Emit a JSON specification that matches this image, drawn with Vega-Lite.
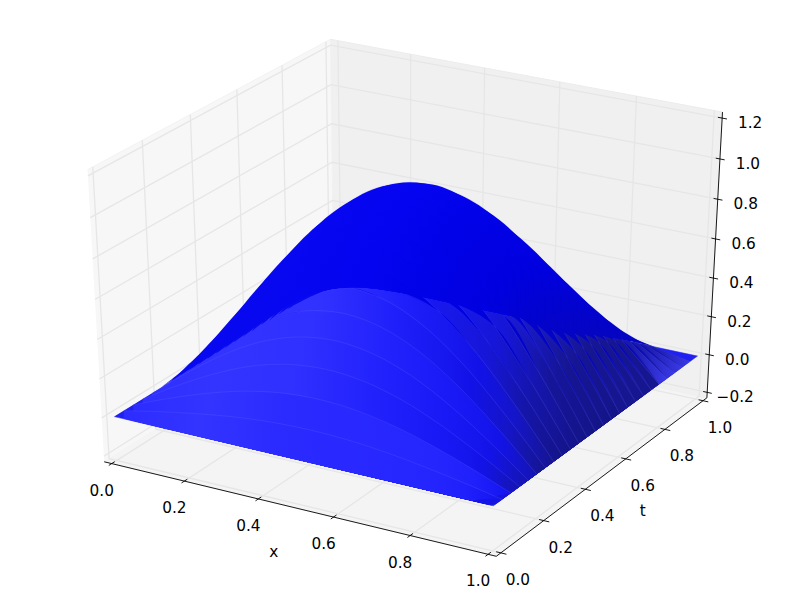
{"$schema":"https://vega.github.io/schema/vega-lite/v6.json","width":800,"height":593,"padding":0,"autosize":{"type":"fit","contains":"padding"},"background":"white","config":{"view":{"stroke":null}},
"data":{"values":[
{"c":"p1","i":1,"x":-0.0208,"t":-0.0208,"u":-0.2292},{"c":"p1","i":1,"x":-0.0208,"t":1.0208,"u":-0.2292},{"c":"p1","i":1,"x":-0.0208,"t":1.0208,"u":1.2292},{"c":"p1","i":1,"x":-0.0208,"t":-0.0208,"u":1.2292},
{"c":"p2","i":2,"x":-0.0208,"t":1.0208,"u":-0.2292},{"c":"p2","i":2,"x":1.0208,"t":1.0208,"u":-0.2292},{"c":"p2","i":2,"x":1.0208,"t":1.0208,"u":1.2292},{"c":"p2","i":2,"x":-0.0208,"t":1.0208,"u":1.2292},
{"c":"p3","i":3,"x":-0.0208,"t":-0.0208,"u":-0.2292},{"c":"p3","i":3,"x":1.0208,"t":-0.0208,"u":-0.2292},{"c":"p3","i":3,"x":1.0208,"t":1.0208,"u":-0.2292},{"c":"p3","i":3,"x":-0.0208,"t":1.0208,"u":-0.2292},
{"c":"f","i":4,"x":0,"t":0,"u":0},{"c":"f","i":4,"x":1,"t":0,"u":0},{"c":"f","i":4,"x":1,"t":1,"u":0},{"c":"f","i":4,"x":0,"t":1,"u":0},
{"c":"g","i":10,"x":0,"t":-0.0208,"u":-0.2292},{"c":"g","i":10,"x":0,"t":1.0208,"u":-0.2292},{"c":"g","i":10,"x":0,"t":1.0208,"u":1.2292},
{"c":"g","i":11,"x":0.2,"t":-0.0208,"u":-0.2292},{"c":"g","i":11,"x":0.2,"t":1.0208,"u":-0.2292},{"c":"g","i":11,"x":0.2,"t":1.0208,"u":1.2292},
{"c":"g","i":12,"x":0.4,"t":-0.0208,"u":-0.2292},{"c":"g","i":12,"x":0.4,"t":1.0208,"u":-0.2292},{"c":"g","i":12,"x":0.4,"t":1.0208,"u":1.2292},
{"c":"g","i":13,"x":0.6,"t":-0.0208,"u":-0.2292},{"c":"g","i":13,"x":0.6,"t":1.0208,"u":-0.2292},{"c":"g","i":13,"x":0.6,"t":1.0208,"u":1.2292},
{"c":"g","i":14,"x":0.8,"t":-0.0208,"u":-0.2292},{"c":"g","i":14,"x":0.8,"t":1.0208,"u":-0.2292},{"c":"g","i":14,"x":0.8,"t":1.0208,"u":1.2292},
{"c":"g","i":15,"x":1,"t":-0.0208,"u":-0.2292},{"c":"g","i":15,"x":1,"t":1.0208,"u":-0.2292},{"c":"g","i":15,"x":1,"t":1.0208,"u":1.2292},
{"c":"g","i":20,"x":1.0208,"t":0,"u":-0.2292},{"c":"g","i":20,"x":-0.0208,"t":0,"u":-0.2292},{"c":"g","i":20,"x":-0.0208,"t":0,"u":1.2292},
{"c":"g","i":21,"x":1.0208,"t":0.2,"u":-0.2292},{"c":"g","i":21,"x":-0.0208,"t":0.2,"u":-0.2292},{"c":"g","i":21,"x":-0.0208,"t":0.2,"u":1.2292},
{"c":"g","i":22,"x":1.0208,"t":0.4,"u":-0.2292},{"c":"g","i":22,"x":-0.0208,"t":0.4,"u":-0.2292},{"c":"g","i":22,"x":-0.0208,"t":0.4,"u":1.2292},
{"c":"g","i":23,"x":1.0208,"t":0.6,"u":-0.2292},{"c":"g","i":23,"x":-0.0208,"t":0.6,"u":-0.2292},{"c":"g","i":23,"x":-0.0208,"t":0.6,"u":1.2292},
{"c":"g","i":24,"x":1.0208,"t":0.8,"u":-0.2292},{"c":"g","i":24,"x":-0.0208,"t":0.8,"u":-0.2292},{"c":"g","i":24,"x":-0.0208,"t":0.8,"u":1.2292},
{"c":"g","i":25,"x":1.0208,"t":1,"u":-0.2292},{"c":"g","i":25,"x":-0.0208,"t":1,"u":-0.2292},{"c":"g","i":25,"x":-0.0208,"t":1,"u":1.2292},
{"c":"g","i":30,"x":-0.0208,"t":-0.0208,"u":-0.2},{"c":"g","i":30,"x":-0.0208,"t":1.0208,"u":-0.2},{"c":"g","i":30,"x":1.0208,"t":1.0208,"u":-0.2},
{"c":"g","i":31,"x":-0.0208,"t":-0.0208,"u":0},{"c":"g","i":31,"x":-0.0208,"t":1.0208,"u":0},{"c":"g","i":31,"x":1.0208,"t":1.0208,"u":0},
{"c":"g","i":32,"x":-0.0208,"t":-0.0208,"u":0.2},{"c":"g","i":32,"x":-0.0208,"t":1.0208,"u":0.2},{"c":"g","i":32,"x":1.0208,"t":1.0208,"u":0.2},
{"c":"g","i":33,"x":-0.0208,"t":-0.0208,"u":0.4},{"c":"g","i":33,"x":-0.0208,"t":1.0208,"u":0.4},{"c":"g","i":33,"x":1.0208,"t":1.0208,"u":0.4},
{"c":"g","i":34,"x":-0.0208,"t":-0.0208,"u":0.6},{"c":"g","i":34,"x":-0.0208,"t":1.0208,"u":0.6},{"c":"g","i":34,"x":1.0208,"t":1.0208,"u":0.6},
{"c":"g","i":35,"x":-0.0208,"t":-0.0208,"u":0.8},{"c":"g","i":35,"x":-0.0208,"t":1.0208,"u":0.8},{"c":"g","i":35,"x":1.0208,"t":1.0208,"u":0.8},
{"c":"g","i":36,"x":-0.0208,"t":-0.0208,"u":1},{"c":"g","i":36,"x":-0.0208,"t":1.0208,"u":1},{"c":"g","i":36,"x":1.0208,"t":1.0208,"u":1},
{"c":"g","i":37,"x":-0.0208,"t":-0.0208,"u":1.2},{"c":"g","i":37,"x":-0.0208,"t":1.0208,"u":1.2},{"c":"g","i":37,"x":1.0208,"t":1.0208,"u":1.2},
{"c":"a","i":40,"x":-0.0208,"t":-0.0208,"u":-0.2292},{"c":"a","i":40,"x":1.0208,"t":-0.0208,"u":-0.2292},
{"c":"a","i":41,"x":1.0208,"t":-0.0208,"u":-0.2292},{"c":"a","i":41,"x":1.0208,"t":1.0208,"u":-0.2292},
{"c":"a","i":42,"x":1.0208,"t":1.0208,"u":-0.2292},{"c":"a","i":42,"x":1.0208,"t":1.0208,"u":1.2292},
{"c":"a","i":50,"x":0,"t":-0.033,"u":-0.2292},{"c":"a","i":50,"x":0,"t":-0.008,"u":-0.2292},
{"c":"a","i":51,"x":0.2,"t":-0.033,"u":-0.2292},{"c":"a","i":51,"x":0.2,"t":-0.008,"u":-0.2292},
{"c":"a","i":52,"x":0.4,"t":-0.033,"u":-0.2292},{"c":"a","i":52,"x":0.4,"t":-0.008,"u":-0.2292},
{"c":"a","i":53,"x":0.6,"t":-0.033,"u":-0.2292},{"c":"a","i":53,"x":0.6,"t":-0.008,"u":-0.2292},
{"c":"a","i":54,"x":0.8,"t":-0.033,"u":-0.2292},{"c":"a","i":54,"x":0.8,"t":-0.008,"u":-0.2292},
{"c":"a","i":55,"x":1,"t":-0.033,"u":-0.2292},{"c":"a","i":55,"x":1,"t":-0.008,"u":-0.2292},
{"c":"a","i":60,"x":1.009,"t":0,"u":-0.2292},{"c":"a","i":60,"x":1.035,"t":0,"u":-0.2292},
{"c":"a","i":61,"x":1.009,"t":0.2,"u":-0.2292},{"c":"a","i":61,"x":1.035,"t":0.2,"u":-0.2292},
{"c":"a","i":62,"x":1.009,"t":0.4,"u":-0.2292},{"c":"a","i":62,"x":1.035,"t":0.4,"u":-0.2292},
{"c":"a","i":63,"x":1.009,"t":0.6,"u":-0.2292},{"c":"a","i":63,"x":1.035,"t":0.6,"u":-0.2292},
{"c":"a","i":64,"x":1.009,"t":0.8,"u":-0.2292},{"c":"a","i":64,"x":1.035,"t":0.8,"u":-0.2292},
{"c":"a","i":65,"x":1.009,"t":1,"u":-0.2292},{"c":"a","i":65,"x":1.035,"t":1,"u":-0.2292},
{"c":"a","i":70,"x":1.01,"t":1.0208,"u":-0.2},{"c":"a","i":70,"x":1.033,"t":1.0208,"u":-0.2},
{"c":"a","i":71,"x":1.01,"t":1.0208,"u":0},{"c":"a","i":71,"x":1.033,"t":1.0208,"u":0},
{"c":"a","i":72,"x":1.01,"t":1.0208,"u":0.2},{"c":"a","i":72,"x":1.033,"t":1.0208,"u":0.2},
{"c":"a","i":73,"x":1.01,"t":1.0208,"u":0.4},{"c":"a","i":73,"x":1.033,"t":1.0208,"u":0.4},
{"c":"a","i":74,"x":1.01,"t":1.0208,"u":0.6},{"c":"a","i":74,"x":1.033,"t":1.0208,"u":0.6},
{"c":"a","i":75,"x":1.01,"t":1.0208,"u":0.8},{"c":"a","i":75,"x":1.033,"t":1.0208,"u":0.8},
{"c":"a","i":76,"x":1.01,"t":1.0208,"u":1},{"c":"a","i":76,"x":1.033,"t":1.0208,"u":1},
{"c":"a","i":77,"x":1.01,"t":1.0208,"u":1.2},{"c":"a","i":77,"x":1.033,"t":1.0208,"u":1.2},
{"c":"lx","s":"0.0","x":0,"t":-0.0208,"u":-0.2292},{"c":"lx","s":"0.2","x":0.2,"t":-0.0208,"u":-0.2292},{"c":"lx","s":"0.4","x":0.4,"t":-0.0208,"u":-0.2292},{"c":"lx","s":"0.6","x":0.6,"t":-0.0208,"u":-0.2292},{"c":"lx","s":"0.8","x":0.8,"t":-0.0208,"u":-0.2292},{"c":"lx","s":"1.0","x":1,"t":-0.0208,"u":-0.2292},
{"c":"lt","s":"0.0","x":1.0208,"t":0,"u":-0.2292},{"c":"lt","s":"0.2","x":1.0208,"t":0.2,"u":-0.2292},{"c":"lt","s":"0.4","x":1.0208,"t":0.4,"u":-0.2292},{"c":"lt","s":"0.6","x":1.0208,"t":0.6,"u":-0.2292},{"c":"lt","s":"0.8","x":1.0208,"t":0.8,"u":-0.2292},{"c":"lt","s":"1.0","x":1.0208,"t":1,"u":-0.2292},
{"c":"lu","s":"−0.2","x":1.0208,"t":1.0208,"u":-0.2},{"c":"lu","s":"0.0","x":1.0208,"t":1.0208,"u":0},{"c":"lu","s":"0.2","x":1.0208,"t":1.0208,"u":0.2},{"c":"lu","s":"0.4","x":1.0208,"t":1.0208,"u":0.4},{"c":"lu","s":"0.6","x":1.0208,"t":1.0208,"u":0.6},{"c":"lu","s":"0.8","x":1.0208,"t":1.0208,"u":0.8},{"c":"lu","s":"1.0","x":1.0208,"t":1.0208,"u":1},{"c":"lu","s":"1.2","x":1.0208,"t":1.0208,"u":1.2},
{"c":"tx","s":"x","x":0.5,"t":-0.0208,"u":-0.2292},{"c":"tt","s":"t","x":1.0208,"t":0.5,"u":-0.2292},
{"x":0,"t":0.96,"u":0},{"x":0.1,"t":0.96,"u":0.039},{"x":0.2,"t":0.96,"u":0.073},{"x":0.3,"t":0.96,"u":0.101},{"x":0.4,"t":0.96,"u":0.119},{"x":0.5,"t":0.96,"u":0.125},{"x":0.6,"t":0.96,"u":0.119},{"x":0.7,"t":0.96,"u":0.101},{"x":0.8,"t":0.96,"u":0.073},{"x":0.9,"t":0.96,"u":0.039},{"x":1,"t":0.96,"u":0},
{"x":0,"t":0.92,"u":0},{"x":0.1,"t":0.92,"u":0.077},{"x":0.2,"t":0.92,"u":0.146},{"x":0.3,"t":0.92,"u":0.201},{"x":0.4,"t":0.92,"u":0.237},{"x":0.5,"t":0.92,"u":0.249},{"x":0.6,"t":0.92,"u":0.237},{"x":0.7,"t":0.92,"u":0.201},{"x":0.8,"t":0.92,"u":0.146},{"x":0.9,"t":0.92,"u":0.077},{"x":1,"t":0.92,"u":0},
{"x":0,"t":0.88,"u":0},{"x":0.1,"t":0.88,"u":0.114},{"x":0.2,"t":0.88,"u":0.216},{"x":0.3,"t":0.88,"u":0.298},{"x":0.4,"t":0.88,"u":0.35},{"x":0.5,"t":0.88,"u":0.368},{"x":0.6,"t":0.88,"u":0.35},{"x":0.7,"t":0.88,"u":0.298},{"x":0.8,"t":0.88,"u":0.216},{"x":0.9,"t":0.88,"u":0.114},{"x":1,"t":0.88,"u":0},
{"x":0,"t":0.84,"u":0},{"x":0.1,"t":0.84,"u":0.149},{"x":0.2,"t":0.84,"u":0.283},{"x":0.3,"t":0.84,"u":0.39},{"x":0.4,"t":0.84,"u":0.458},{"x":0.5,"t":0.84,"u":0.482},{"x":0.6,"t":0.84,"u":0.458},{"x":0.7,"t":0.84,"u":0.39},{"x":0.8,"t":0.84,"u":0.283},{"x":0.9,"t":0.84,"u":0.149},{"x":1,"t":0.84,"u":0},
{"x":0,"t":0.8,"u":0},{"x":0.1,"t":0.8,"u":0.182},{"x":0.2,"t":0.8,"u":0.346},{"x":0.3,"t":0.8,"u":0.476},{"x":0.4,"t":0.8,"u":0.559},{"x":0.5,"t":0.8,"u":0.588},{"x":0.6,"t":0.8,"u":0.559},{"x":0.7,"t":0.8,"u":0.476},{"x":0.8,"t":0.8,"u":0.346},{"x":0.9,"t":0.8,"u":0.182},{"x":1,"t":0.8,"u":0},
{"x":0,"t":0.76,"u":0},{"x":0.1,"t":0.76,"u":0.212},{"x":0.2,"t":0.76,"u":0.403},{"x":0.3,"t":0.76,"u":0.554},{"x":0.4,"t":0.76,"u":0.651},{"x":0.5,"t":0.76,"u":0.685},{"x":0.6,"t":0.76,"u":0.651},{"x":0.7,"t":0.76,"u":0.554},{"x":0.8,"t":0.76,"u":0.403},{"x":0.9,"t":0.76,"u":0.212},{"x":1,"t":0.76,"u":0},
{"x":0,"t":0.72,"u":0},{"x":0.1,"t":0.72,"u":0.238},{"x":0.2,"t":0.72,"u":0.453},{"x":0.3,"t":0.72,"u":0.624},{"x":0.4,"t":0.72,"u":0.733},{"x":0.5,"t":0.72,"u":0.771},{"x":0.6,"t":0.72,"u":0.733},{"x":0.7,"t":0.72,"u":0.624},{"x":0.8,"t":0.72,"u":0.453},{"x":0.9,"t":0.72,"u":0.238},{"x":1,"t":0.72,"u":0},
{"x":0,"t":0.68,"u":0},{"x":0.1,"t":0.68,"u":0.261},{"x":0.2,"t":0.68,"u":0.496},{"x":0.3,"t":0.68,"u":0.683},{"x":0.4,"t":0.68,"u":0.803},{"x":0.5,"t":0.68,"u":0.844},{"x":0.6,"t":0.68,"u":0.803},{"x":0.7,"t":0.68,"u":0.683},{"x":0.8,"t":0.68,"u":0.496},{"x":0.9,"t":0.68,"u":0.261},{"x":1,"t":0.68,"u":0},
{"x":0,"t":0.64,"u":0},{"x":0.1,"t":0.64,"u":0.28},{"x":0.2,"t":0.64,"u":0.532},{"x":0.3,"t":0.64,"u":0.732},{"x":0.4,"t":0.64,"u":0.861},{"x":0.5,"t":0.64,"u":0.905},{"x":0.6,"t":0.64,"u":0.861},{"x":0.7,"t":0.64,"u":0.732},{"x":0.8,"t":0.64,"u":0.532},{"x":0.9,"t":0.64,"u":0.28},{"x":1,"t":0.64,"u":0},
{"x":0,"t":0.6,"u":0},{"x":0.1,"t":0.6,"u":0.294},{"x":0.2,"t":0.6,"u":0.559},{"x":0.3,"t":0.6,"u":0.769},{"x":0.4,"t":0.6,"u":0.904},{"x":0.5,"t":0.6,"u":0.951},{"x":0.6,"t":0.6,"u":0.904},{"x":0.7,"t":0.6,"u":0.769},{"x":0.8,"t":0.6,"u":0.559},{"x":0.9,"t":0.6,"u":0.294},{"x":1,"t":0.6,"u":0},
{"x":0,"t":0.56,"u":0},{"x":0.1,"t":0.56,"u":0.303},{"x":0.2,"t":0.56,"u":0.577},{"x":0.3,"t":0.56,"u":0.794},{"x":0.4,"t":0.56,"u":0.934},{"x":0.5,"t":0.56,"u":0.982},{"x":0.6,"t":0.56,"u":0.934},{"x":0.7,"t":0.56,"u":0.794},{"x":0.8,"t":0.56,"u":0.577},{"x":0.9,"t":0.56,"u":0.303},{"x":1,"t":0.56,"u":0},
{"x":0,"t":0.52,"u":0},{"x":0.1,"t":0.52,"u":0.308},{"x":0.2,"t":0.52,"u":0.587},{"x":0.3,"t":0.52,"u":0.807},{"x":0.4,"t":0.52,"u":0.949},{"x":0.5,"t":0.52,"u":0.998},{"x":0.6,"t":0.52,"u":0.949},{"x":0.7,"t":0.52,"u":0.807},{"x":0.8,"t":0.52,"u":0.587},{"x":0.9,"t":0.52,"u":0.308},{"x":1,"t":0.52,"u":0},
{"x":0,"t":0.48,"u":0},{"x":0.1,"t":0.48,"u":0.308},{"x":0.2,"t":0.48,"u":0.587},{"x":0.3,"t":0.48,"u":0.807},{"x":0.4,"t":0.48,"u":0.949},{"x":0.5,"t":0.48,"u":0.998},{"x":0.6,"t":0.48,"u":0.949},{"x":0.7,"t":0.48,"u":0.807},{"x":0.8,"t":0.48,"u":0.587},{"x":0.9,"t":0.48,"u":0.308},{"x":1,"t":0.48,"u":0},
{"x":0,"t":0.44,"u":0},{"x":0.1,"t":0.44,"u":0.303},{"x":0.2,"t":0.44,"u":0.577},{"x":0.3,"t":0.44,"u":0.794},{"x":0.4,"t":0.44,"u":0.934},{"x":0.5,"t":0.44,"u":0.982},{"x":0.6,"t":0.44,"u":0.934},{"x":0.7,"t":0.44,"u":0.794},{"x":0.8,"t":0.44,"u":0.577},{"x":0.9,"t":0.44,"u":0.303},{"x":1,"t":0.44,"u":0},
{"x":0,"t":0.4,"u":0},{"x":0.1,"t":0.4,"u":0.294},{"x":0.2,"t":0.4,"u":0.559},{"x":0.3,"t":0.4,"u":0.769},{"x":0.4,"t":0.4,"u":0.904},{"x":0.5,"t":0.4,"u":0.951},{"x":0.6,"t":0.4,"u":0.904},{"x":0.7,"t":0.4,"u":0.769},{"x":0.8,"t":0.4,"u":0.559},{"x":0.9,"t":0.4,"u":0.294},{"x":1,"t":0.4,"u":0},
{"x":0,"t":0.36,"u":0},{"x":0.1,"t":0.36,"u":0.28},{"x":0.2,"t":0.36,"u":0.532},{"x":0.3,"t":0.36,"u":0.732},{"x":0.4,"t":0.36,"u":0.861},{"x":0.5,"t":0.36,"u":0.905},{"x":0.6,"t":0.36,"u":0.861},{"x":0.7,"t":0.36,"u":0.732},{"x":0.8,"t":0.36,"u":0.532},{"x":0.9,"t":0.36,"u":0.28},{"x":1,"t":0.36,"u":0},
{"x":0,"t":0.32,"u":0},{"x":0.1,"t":0.32,"u":0.261},{"x":0.2,"t":0.32,"u":0.496},{"x":0.3,"t":0.32,"u":0.683},{"x":0.4,"t":0.32,"u":0.803},{"x":0.5,"t":0.32,"u":0.844},{"x":0.6,"t":0.32,"u":0.803},{"x":0.7,"t":0.32,"u":0.683},{"x":0.8,"t":0.32,"u":0.496},{"x":0.9,"t":0.32,"u":0.261},{"x":1,"t":0.32,"u":0},
{"x":0,"t":0.28,"u":0},{"x":0.1,"t":0.28,"u":0.238},{"x":0.2,"t":0.28,"u":0.453},{"x":0.3,"t":0.28,"u":0.624},{"x":0.4,"t":0.28,"u":0.733},{"x":0.5,"t":0.28,"u":0.771},{"x":0.6,"t":0.28,"u":0.733},{"x":0.7,"t":0.28,"u":0.624},{"x":0.8,"t":0.28,"u":0.453},{"x":0.9,"t":0.28,"u":0.238},{"x":1,"t":0.28,"u":0},
{"x":0,"t":0.24,"u":0},{"x":0.1,"t":0.24,"u":0.212},{"x":0.2,"t":0.24,"u":0.403},{"x":0.3,"t":0.24,"u":0.554},{"x":0.4,"t":0.24,"u":0.651},{"x":0.5,"t":0.24,"u":0.685},{"x":0.6,"t":0.24,"u":0.651},{"x":0.7,"t":0.24,"u":0.554},{"x":0.8,"t":0.24,"u":0.403},{"x":0.9,"t":0.24,"u":0.212},{"x":1,"t":0.24,"u":0},
{"x":0,"t":0.2,"u":0},{"x":0.1,"t":0.2,"u":0.182},{"x":0.2,"t":0.2,"u":0.346},{"x":0.3,"t":0.2,"u":0.476},{"x":0.4,"t":0.2,"u":0.559},{"x":0.5,"t":0.2,"u":0.588},{"x":0.6,"t":0.2,"u":0.559},{"x":0.7,"t":0.2,"u":0.476},{"x":0.8,"t":0.2,"u":0.346},{"x":0.9,"t":0.2,"u":0.182},{"x":1,"t":0.2,"u":0},
{"x":0,"t":0.16,"u":0},{"x":0.1,"t":0.16,"u":0.149},{"x":0.2,"t":0.16,"u":0.283},{"x":0.3,"t":0.16,"u":0.39},{"x":0.4,"t":0.16,"u":0.458},{"x":0.5,"t":0.16,"u":0.482},{"x":0.6,"t":0.16,"u":0.458},{"x":0.7,"t":0.16,"u":0.39},{"x":0.8,"t":0.16,"u":0.283},{"x":0.9,"t":0.16,"u":0.149},{"x":1,"t":0.16,"u":0},
{"x":0,"t":0.12,"u":0},{"x":0.1,"t":0.12,"u":0.114},{"x":0.2,"t":0.12,"u":0.216},{"x":0.3,"t":0.12,"u":0.298},{"x":0.4,"t":0.12,"u":0.35},{"x":0.5,"t":0.12,"u":0.368},{"x":0.6,"t":0.12,"u":0.35},{"x":0.7,"t":0.12,"u":0.298},{"x":0.8,"t":0.12,"u":0.216},{"x":0.9,"t":0.12,"u":0.114},{"x":1,"t":0.12,"u":0},
{"x":0,"t":0.08,"u":0},{"x":0.1,"t":0.08,"u":0.077},{"x":0.2,"t":0.08,"u":0.146},{"x":0.3,"t":0.08,"u":0.201},{"x":0.4,"t":0.08,"u":0.237},{"x":0.5,"t":0.08,"u":0.249},{"x":0.6,"t":0.08,"u":0.237},{"x":0.7,"t":0.08,"u":0.201},{"x":0.8,"t":0.08,"u":0.146},{"x":0.9,"t":0.08,"u":0.077},{"x":1,"t":0.08,"u":0},
{"x":0,"t":0.04,"u":0},{"x":0.1,"t":0.04,"u":0.039},{"x":0.2,"t":0.04,"u":0.073},{"x":0.3,"t":0.04,"u":0.101},{"x":0.4,"t":0.04,"u":0.119},{"x":0.5,"t":0.04,"u":0.125},{"x":0.6,"t":0.04,"u":0.119},{"x":0.7,"t":0.04,"u":0.101},{"x":0.8,"t":0.04,"u":0.073},{"x":0.9,"t":0.04,"u":0.039},{"x":1,"t":0.04,"u":0}
]},
"transform":[
{"window":[{"op":"row_number","as":"o"}]},
{"calculate":"10-(0.433013*(datum.x-0.5)-0.75*(datum.t-0.5)+0.5*((datum.u+0.2)/1.4-0.5))","as":"d"},
{"calculate":"410.4+4345*(0.866025*(datum.x-0.5)+0.5*(datum.t-0.5))/datum.d","as":"px"},
{"calculate":"288.6-3200*(-0.25*(datum.x-0.5)+0.433013*(datum.t-0.5)+0.866025*((datum.u+0.2)/1.4-0.5))/datum.d","as":"py"},
{"calculate":"datum.px<493.3?416.6+(datum.px-114.3)*0.2354:505.8-(datum.px-493.3)*0.7336","as":"low"},
{"calculate":"datum.px<300?416.6-(datum.px-114.3)*0.644:datum.px<345?297-(datum.px-300)*0.267:datum.px<400?285+(datum.px-345)*0.127:292+(datum.px-400)*0.2155","as":"bnd"},
{"calculate":"max(datum.py,datum.bnd)","as":"pc"},
{"calculate":"max(datum.low,datum.pc)","as":"pb"}
],
"encoding":{"x":{"field":"px","type":"quantitative","scale":{"domain":[0,800]},"axis":null},"y":{"field":"py","type":"quantitative","scale":{"domain":[593,0]},"axis":null}},
"layer":[
{"transform":[{"filter":"datum.c=='p1'"}],"mark":{"type":"line","fill":"#f7f7f7","stroke":"#f2f2f2","strokeWidth":1},"encoding":{"order":{"field":"o"}}},
{"transform":[{"filter":"datum.c=='p2'"}],"mark":{"type":"line","fill":"#f0f0f0","stroke":"#ececec","strokeWidth":1},"encoding":{"order":{"field":"o"}}},
{"transform":[{"filter":"datum.c=='p3'"}],"mark":{"type":"line","fill":"#f4f4f4","stroke":"#efefef","strokeWidth":1},"encoding":{"order":{"field":"o"}}},
{"transform":[{"filter":"datum.c=='g'"}],"mark":{"type":"line","stroke":"#e6e6e6","strokeWidth":1.3},"encoding":{"detail":{"field":"i"},"order":{"field":"o"}}},
{"transform":[{"filter":"datum.c=='a'"}],"mark":{"type":"line","stroke":"#000000","strokeWidth":0.9},"encoding":{"detail":{"field":"i"},"order":{"field":"o"}}},
{"transform":[{"filter":"datum.c=='lx'"}],"mark":{"type":"text","font":"DejaVu Sans","fontSize":15.3,"dx":-10,"dy":27},"encoding":{"text":{"field":"s"}}},
{"transform":[{"filter":"datum.c=='lt'"}],"mark":{"type":"text","font":"DejaVu Sans","fontSize":15.3,"dx":17,"dy":27},"encoding":{"text":{"field":"s"}}},
{"transform":[{"filter":"datum.c=='lu'"}],"mark":{"type":"text","font":"DejaVu Sans","fontSize":15.3,"dx":28,"dy":5},"encoding":{"text":{"field":"s"}}},
{"transform":[{"filter":"datum.c=='tx'"}],"mark":{"type":"text","font":"DejaVu Sans","fontSize":15.3,"dx":-22,"dy":44},"encoding":{"text":{"field":"s"}}},
{"transform":[{"filter":"datum.c=='tt'"}],"mark":{"type":"text","font":"DejaVu Sans","fontSize":15.3,"dx":37,"dy":37},"encoding":{"text":{"field":"s"}}},
{"transform":[{"filter":"datum.c=='f'"}],"mark":{"type":"line","fill":"#2020f0","stroke":"#2020f0","strokeWidth":0.5},"encoding":{"order":{"field":"o"}}},
{"transform":[{"filter":"!datum.c&&datum.t>0.8"}],"mark":{"type":"area","color":{"gradient":"linear","x1":0,"x2":1,"y1":0,"y2":0,"stops":[{"offset":0,"color":"#3030ff"},{"offset":0.2,"color":"#1c1cf0"},{"offset":0.4,"color":"#1a1ad0"},{"offset":0.6,"color":"#1a1ac0"},{"offset":0.8,"color":"#1a1ab0"},{"offset":0.9,"color":"#1a1aa8"},{"offset":1,"color":"#3a3ae8"}]}},"encoding":{"y":{"field":"pc","type":"quantitative"},"y2":{"field":"pb"},"detail":{"field":"t"}}},
{"transform":[{"filter":"!datum.c&&datum.t>0.6&&datum.t<=0.8"}],"mark":{"type":"area","color":{"gradient":"linear","x1":0,"x2":1,"y1":0,"y2":0,"stops":[{"offset":0,"color":"#2c2cff"},{"offset":0.2,"color":"#1a1af8"},{"offset":0.4,"color":"#1a1af0"},{"offset":0.6,"color":"#1a1ad0"},{"offset":0.8,"color":"#1a1ab0"},{"offset":0.9,"color":"#161690"},{"offset":1,"color":"#161690"}]}},"encoding":{"y":{"field":"pc","type":"quantitative"},"y2":{"field":"pb"},"detail":{"field":"t"}}},
{"transform":[{"filter":"!datum.c&&datum.t>0.5&&datum.t<=0.6"}],"mark":{"type":"area","color":{"gradient":"linear","x1":0,"x2":1,"y1":0,"y2":0,"stops":[{"offset":0,"color":"#2a2aff"},{"offset":0.2,"color":"#2727ff"},{"offset":0.4,"color":"#2020fc"},{"offset":0.6,"color":"#1818e0"},{"offset":0.8,"color":"#1a1ac0"},{"offset":0.9,"color":"#161695"},{"offset":1,"color":"#141488"}]}},"encoding":{"y":{"field":"pc","type":"quantitative"},"y2":{"field":"pb"},"detail":{"field":"t"}}},
{"transform":[{"filter":"!datum.c&&datum.t>0.4&&datum.t<=0.5"}],"mark":{"type":"area","color":{"gradient":"linear","x1":0,"x2":1,"y1":0,"y2":0,"stops":[{"offset":0,"color":"#2a2aff"},{"offset":0.2,"color":"#3030ff"},{"offset":0.4,"color":"#3434ff"},{"offset":0.6,"color":"#1818f0"},{"offset":0.8,"color":"#1a1ad0"},{"offset":0.9,"color":"#15159a"},{"offset":1,"color":"#141488"}]}},"encoding":{"y":{"field":"pc","type":"quantitative"},"y2":{"field":"pb"},"detail":{"field":"t"}}},
{"transform":[{"filter":"!datum.c&&datum.t>0.3&&datum.t<=0.4"}],"mark":{"type":"area","color":{"gradient":"linear","x1":0,"x2":1,"y1":0,"y2":0,"stops":[{"offset":0,"color":"#2a2aff"},{"offset":0.2,"color":"#3232ff"},{"offset":0.4,"color":"#3434ff"},{"offset":0.6,"color":"#1a1af8"},{"offset":0.8,"color":"#1616d8"},{"offset":0.9,"color":"#1515aa"},{"offset":1,"color":"#141488"}]}},"encoding":{"y":{"field":"pc","type":"quantitative"},"y2":{"field":"pb"},"detail":{"field":"t"}}},
{"transform":[{"filter":"!datum.c&&datum.t>0.2&&datum.t<=0.3"}],"mark":{"type":"area","color":{"gradient":"linear","x1":0,"x2":1,"y1":0,"y2":0,"stops":[{"offset":0,"color":"#2d2dff"},{"offset":0.2,"color":"#3434ff"},{"offset":0.4,"color":"#3232ff"},{"offset":0.6,"color":"#1f1ffb"},{"offset":0.8,"color":"#1212e8"},{"offset":0.9,"color":"#1515c8"},{"offset":1,"color":"#151590"}]}},"encoding":{"y":{"field":"pc","type":"quantitative"},"y2":{"field":"pb"},"detail":{"field":"t"}}},
{"transform":[{"filter":"!datum.c&&datum.t>0.1&&datum.t<=0.2"}],"mark":{"type":"area","color":{"gradient":"linear","x1":0,"x2":1,"y1":0,"y2":0,"stops":[{"offset":0,"color":"#3030ff"},{"offset":0.2,"color":"#3434ff"},{"offset":0.4,"color":"#3030ff"},{"offset":0.6,"color":"#2222fd"},{"offset":0.8,"color":"#1818f5"},{"offset":0.9,"color":"#1313e8"},{"offset":1,"color":"#1515b0"}]}},"encoding":{"y":{"field":"pc","type":"quantitative"},"y2":{"field":"pb"},"detail":{"field":"t"}}},
{"transform":[{"filter":"!datum.c&&datum.t<=0.1"}],"mark":{"type":"area","color":{"gradient":"linear","x1":0,"x2":1,"y1":0,"y2":0,"stops":[{"offset":0,"color":"#2c2cff"},{"offset":0.2,"color":"#3434ff"},{"offset":0.4,"color":"#2b2bff"},{"offset":0.6,"color":"#2828ff"},{"offset":0.8,"color":"#2525fe"},{"offset":0.9,"color":"#2020fc"},{"offset":1,"color":"#1414f0"}]}},"encoding":{"y":{"field":"pc","type":"quantitative"},"y2":{"field":"pb"},"detail":{"field":"t"}}},
{"transform":[{"filter":"!datum.c"}],"mark":{"type":"line","interpolate":"catmull-rom","stroke":"#7070ff","strokeWidth":0.7,"strokeOpacity":0.3},"encoding":{"detail":{"field":"t"}}},
{"transform":[{"filter":"!datum.c"}],"mark":{"type":"area","interpolate":"catmull-rom","color":{"gradient":"linear","x1":0,"x2":1,"y1":0,"y2":0,"stops":[{"offset":0,"color":"#0a0af0"},{"offset":0.5,"color":"#0404f0"},{"offset":0.75,"color":"#0000e0"},{"offset":0.92,"color":"#0606b8"},{"offset":1,"color":"#2828a8"}]}},"encoding":{"y":{"field":"py","type":"quantitative"},"y2":{"field":"pc"},"detail":{"field":"t"}}}
]}
